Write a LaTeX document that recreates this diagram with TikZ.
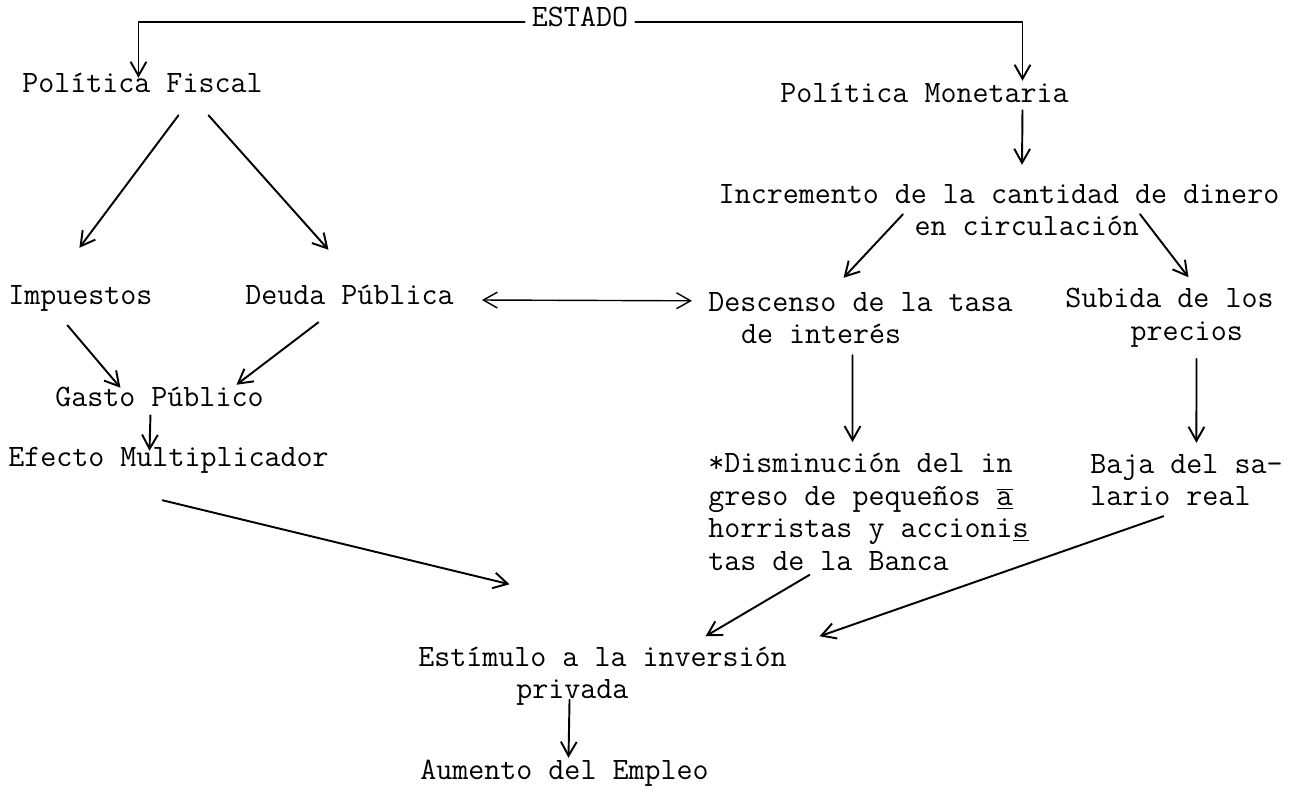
\documentclass[tikz,border=0pt]{standalone}
\usepackage{fontspec}
\usetikzlibrary{arrows.meta}

\tikzset{
	txt/.style={inner sep=0pt, anchor=west},
	one/.style={txt, text height=0.7em, text depth=0.2em},
	arr/.style={->, line width=1.1pt},
}

\begin{document}
\begin{tikzpicture}[x=0.02cm, y=-0.02cm, font=\ttfamily\fontsize{17.7}{18.5}\selectfont, line join=round, line cap=round, >={Straight Barb[length=8pt,width=9pt]}]
	\useasboundingbox (0,0) rectangle (1304,789);
	\node[inner sep=0pt, inner xsep=4pt, text height=0.7em, text depth=0.2em] (estado) at (580,22) {ESTADO};
	\node[one] (fiscal) at (22,88) {Política Fiscal};
	\node[one] (monetaria) at (780,98) {Política Monetaria};
	\node[inner sep=0pt, align=left] (incremento) at (999,210) {Incremento de la cantidad de dinero\\\hspace*{6.3em}en circulación};
	\node[one] (impuestos) at (8,300) {Impuestos};
	\node[one] (deuda) at (245,300) {Deuda Pública};
	\node[txt, align=left] (descenso) at (708,318) {Descenso de la tasa\\\hspace*{1.05em}de interés};
	\node[txt, align=left] (subida) at (1065,318) {Subida de los\\\hspace*{2.1em}precios};
	\node[one] (gasto) at (55,402) {Gasto Público};
	\node[one] (efecto) at (8,462) {Efecto Multiplicador};
	\node[txt, align=left] (disminucion) at (708,512) {*Disminución del in\\greso de pequeños \underline{$\overline{\mbox{a}}$}\\horristas y accioni\underline{s}\\tas de la Banca};
	\node[txt, align=left] (baja) at (1090,480) {Baja del sa-\\lario real};
	\node[txt, align=left] (estimulo) at (418,676) {Estímulo a la inversión\\\hspace*{3.15em}privada};
	\node[one] (aumento) at (420,775) {Aumento del Empleo};

	\draw[arr] (estado) -| ([shift={(-4,-2)}]fiscal.north);
	\draw[arr] (estado) -| ([shift={(98,-9)}]monetaria.north);
	\draw[arr] ([shift={(98,4)}]monetaria.south) -- ([shift={(23,-19)}]incremento.north);
	\draw[arr] ([shift={(36,19)}]fiscal.south) -- ([shift={(-1,-44)}]impuestos.north);
	\draw[arr] ([shift={(66,19)}]fiscal.south) -- ([shift={(-21,-42)}]deuda.north);
	\draw[arr] ([shift={(-96,-22)}]incremento.south) -- ([shift={(-17,-14)}]descenso.north);
	\draw[arr] ([shift={(141,-22)}]incremento.south) -- ([shift={(19,-11)}]subida.north);
	\draw[<->, line width=0.8pt] ([shift={(28,0)}]deuda.east) -- ([shift={(-16,9)}]descenso.north west);
	\draw[arr] ([shift={(-13,17)}]impuestos.south) -- ([shift={(-39,-6)}]gasto.north);
	\draw[arr] ([shift={(-31,14)}]deuda.south) -- ([shift={(77,-9)}]gasto.north);
	\draw[arr] ([shift={(-9,5)}]gasto.south) -- ([shift={(-19,-3)}]efecto.north);
	\draw[arr] ([shift={(-8,11)}]descenso.south) -- ([shift={(-16,-11)}]disminucion.north);
	\draw[arr] ([shift={(27,11)}]subida.south) -- ([shift={(10,-11)}]baja.north);
	\draw[arr] ([shift={(-6,30)}]efecto.south) -- ([shift={(-93,-62)}]estimulo.north);
	\draw[arr] ([shift={(-59,4)}]disminucion.south) -- ([shift={(103,-10)}]estimulo.north);
	\draw[arr] ([shift={(-23,10)}]baja.south) -- ([shift={(217,-10)}]estimulo.north);
	\draw[arr] ([shift={(-33,-6)}]estimulo.south) -- ([shift={(4,-9)}]aumento.north);
\end{tikzpicture}
\end{document}
